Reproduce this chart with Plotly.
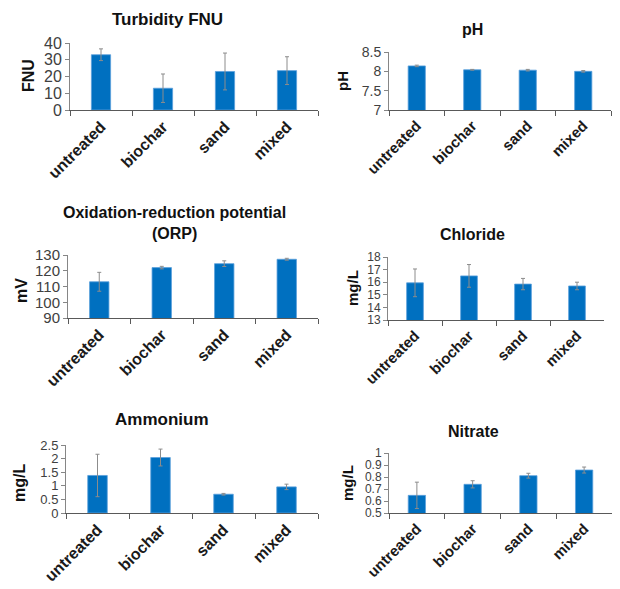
import plotly.graph_objects as go

categories = ["untreated", "biochar", "sand", "mixed"]

turbidity = [33, 13, 23, 23.5]
turbidity_err = [3.5, 8.5, 11, 8.3]
ph = [8.14, 8.04, 8.03, 8.0]
ph_err = [0.02, 0.01, 0.02, 0.02]
orp = [113, 122, 124.5, 127.3]
orp_err = [6, 0.8, 1.8, 0.6]
chloride = [15.95, 16.5, 15.85, 15.7]
chloride_err = [1.1, 0.9, 0.45, 0.3]
ammonium = [1.38, 2.04, 0.69, 0.96]
ammonium_err = [0.78, 0.31, 0.03, 0.1]
nitrate = [0.647, 0.739, 0.811, 0.858]
nitrate_err = [0.11, 0.03, 0.02, 0.025]

titles = ["Turbidity FNU", "pH", "Oxidation-reduction potential<br>(ORP)", "Chloride", "Ammonium", "Nitrate"]
ytitles = ["FNU", "pH", "mV", "mg/L", "mg/L", "mg/L"]
yranges = [(0, 40, 10), (7, 8.5, 0.5), (90, 130, 10), (13, 18, 1), (0, 2.5, 0.5), (0.5, 1, 0.1)]

# page has an 8px body margin; figure is sized to fill the rest of the window
OFF = 8
W, H = 620 - OFF, 589 - OFF


def px(x):
    return (x - OFF) / W


def py(y):
    return 1 - (y - OFF) / H


# panel boxes in window pixels: x0, x1, ytop, ybottom
boxes = [(70, 318, 43, 110), (389, 611, 52, 110),
         (68, 318, 255, 318), (388, 604, 257, 320),
         (66, 318, 445, 513), (389, 612, 453, 513)]
series = [(turbidity, turbidity_err), (ph, ph_err), (orp, orp_err),
          (chloride, chloride_err), (ammonium, ammonium_err), (nitrate, nitrate_err)]
tick_sizes = [16, 14, 15, 12, 13, 12]

FONT = "Liberation Sans, Arial, sans-serif"
fig = go.Figure()
layout = {}
for i, ((vals, errs), box, yr) in enumerate(zip(series, boxes, yranges)):
    n = "" if i == 0 else str(i + 1)
    left = i % 2 == 0
    fig.add_trace(go.Bar(
        x=categories, y=vals, xaxis="x" + n, yaxis="y" + n,
        marker=dict(color="#0070C0", line=dict(color="#5aa0dc", width=0.8)),
        width=0.31,
        error_y=dict(type="data", array=errs, visible=True, color="#8c8c8c", thickness=1, width=2),
        showlegend=False, hoverinfo="skip"))
    x0, x1, yt, yb = box
    layout["xaxis" + n] = dict(
        domain=[px(x0), px(x1)], anchor="y" + n, type="category",
        range=[-0.5, 3.5], tickson="boundaries", ticks="outside", ticklen=5,
        tickcolor="#595959", showline=True, linecolor="#595959", linewidth=1.3,
        tickangle=-45, showgrid=False, automargin=False,
        tickfont=dict(family=FONT, size=16 if left else 15, color="#1a1a1a", weight="bold"))
    layout["yaxis" + n] = dict(
        domain=[py(yb), py(yt)], anchor="x" + n,
        range=[yr[0], yr[1]], tickmode="linear", tick0=yr[0], dtick=yr[2],
        ticks="outside", ticklen=4, tickcolor="#868686", showline=True,
        linecolor="#868686", linewidth=1, showgrid=False, zeroline=False, automargin=False,
        tickfont=dict(family=FONT, size=tick_sizes[i], color="#404040"))

ann = []
title_pos = [(167, 19, 17), (472, 30, 16), (174, 223, 16), (472, 235, 16), (162, 419, 17), (473, 431, 16)]
for t, (x, y, s) in zip(titles, title_pos):
    ann.append(dict(text=t, x=px(x), y=py(y), xref="paper", yref="paper",
                    showarrow=False, xanchor="center", yanchor="middle",
                    font=dict(family=FONT, size=s, color="#111111", weight="bold")))
ytitle_pos = [(28, 76), (343, 81), (22, 290), (352, 288), (19, 483), (347, 483)]
for t, (x, y), i in zip(ytitles, ytitle_pos, range(6)):
    ann.append(dict(text=t, x=px(x), y=py(y), xref="paper", yref="paper",
                    showarrow=False, xanchor="center", yanchor="middle", textangle=-90,
                    font=dict(family=FONT, size=16 if i % 2 == 0 else 15, color="#111111", weight="bold")))

fig.update_layout(
    width=W, height=H, margin=dict(l=0, r=0, t=0, b=0),
    paper_bgcolor="white", plot_bgcolor="white", template="none",
    annotations=ann, bargap=0.69, **layout)

fig.write_html("out.html")
